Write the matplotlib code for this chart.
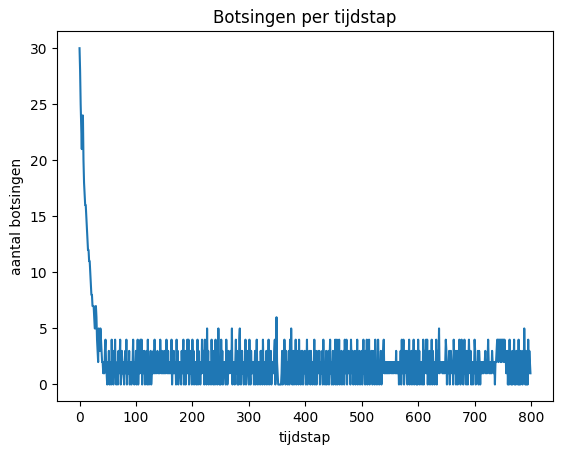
import matplotlib
matplotlib.use("Agg")
import matplotlib.pyplot as plt

# begin: dalende aantal botsingen
start_values = [30, 28, 25, 23, 21, 24, 24, 20, 18, 17, 16, 16, 15, 14, 13, 12,
                12, 11, 11, 10, 9, 8, 8, 7, 7, 7, 6, 5, 5, 7, 6, 4, 3, 2, 5, 4,
                3, 5, 4, 3, 2, 2, 1, 2, 1, 3, 4, 2]

# daarna: ruis rond 0-5 (een cijfer per tijdstap, 50 per rij)
noise_rows = [
    "10213021041203141012031240131210231402113012012410",
    "21301402124140321302130410213012131412213212142131",
    "21312142131212140213122041302121031240130214140213",
    "20413021201403120214213041205130212041301304120152",
    "02041302121042013212315021202413020451023120214013",
    "12041031212013024102120313041202130214021302121340",
    "26210000001302142031201304152013021402130412031302",
    "13201402132031202140130213130221304120130213024120",
    "13021402402140213021304124021312042130213021402130",
    "21302412031402140213203120412014202130213412121212",
    "12122121212213121202130412401321302140213021402130",
    "20413021201403124140213021403120214031251222212121",
    "24302123023212042130230214302413024120320242130220",
    "21430221303202121212231212421212132212022344243424",
    "24342423123020413020314020312040203120315203020413",
]
end_values = "21"

botsingen = start_values + [int(c) for c in "".join(noise_rows) + end_values]
tijdstap = list(range(len(botsingen)))

fig = plt.figure(figsize=(5.62, 4.55), dpi=100)
ax = fig.add_axes([0.1014, 0.118, 0.8826, 0.813])
ax.plot(tijdstap, botsingen, color="#1f77b4")
ax.set_title("Botsingen per tijdstap")
ax.set_xlabel("tijdstap")
ax.set_ylabel("aantal botsingen")
fig.savefig("out.png", dpi=100)
plt.close(fig)
